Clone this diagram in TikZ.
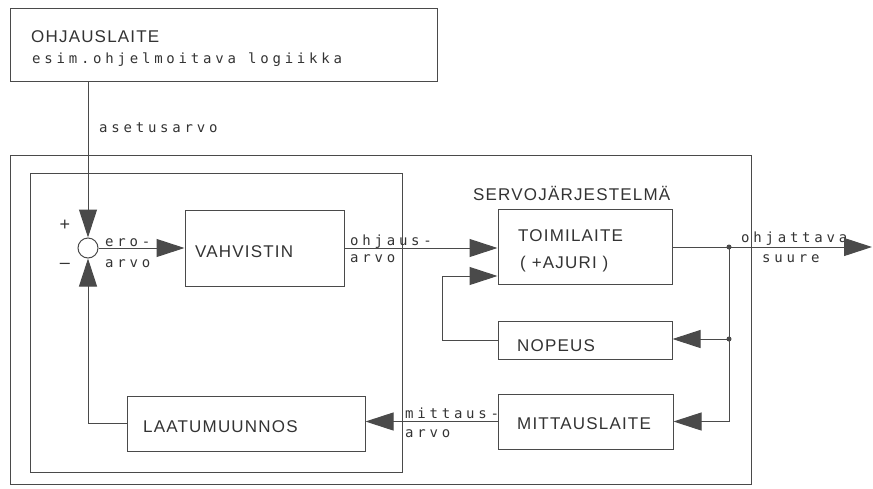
\documentclass[tikz,border=0pt]{standalone}
\usepackage{fontspec}
\usetikzlibrary{arrows.meta,calc}
\newfontfamily\bigf[LetterSpace=7]{Liberation Sans}
\newfontfamily\smallf[LetterSpace=27]{DejaVu Sans Mono}
\definecolor{ink}{HTML}{333333}
\definecolor{lin}{HTML}{4A4A4A}
\begin{document}
\begin{tikzpicture}[x=1pt,y=-1pt,
  box/.style={draw=lin,line width=1pt,inner sep=0pt},
  wire/.style={draw=lin,line width=1pt},
  arr/.style={wire,-{Triangle[length=28pt,width=18pt]}},
  big/.style={inner sep=0pt,anchor=base west,text=ink,font=\bigf\fontsize{17}{20}\selectfont},
  sml/.style={inner sep=0pt,anchor=base west,text=ink,font=\smallf\fontsize{14}{17}\selectfont},
  dot/.style={circle,fill=lin,inner sep=0pt,minimum size=5pt}]
\useasboundingbox (0,0) rectangle (873,488);
% boxes
\node[box,minimum width=427pt,minimum height=73pt] (ohj) at (223.5,44.5) {};
\node[box,minimum width=741pt,minimum height=329pt] (outer) at (380.5,319.5) {};
\node[box,minimum width=372pt,minimum height=299pt] (inner) at (216,322.5) {};
\node[box,circle,minimum size=20pt] (sum) at (88,248) {};
\node[box,minimum width=159pt,minimum height=76pt] (vahv) at (264.5,248) {};
\node[box,minimum width=174pt,minimum height=75pt] (toim) at (585,246.5) {};
\node[box,minimum width=174pt,minimum height=38pt] (nop) at (585,340) {};
\node[box,minimum width=175pt,minimum height=55pt] (mitt) at (585.5,421.5) {};
\node[box,minimum width=238pt,minimum height=55pt] (laat) at (246,423.5) {};
% coordinates
\coordinate (j1) at (729,247);
\coordinate (j2) at (729,339);
\coordinate (out) at (872,247);
\coordinate (c1) at (442,276);
% texts
\node[big] (t1) at (31,42) {OHJAUSLAITE};
\node[sml] (t2) at (32,63) {esim.ohjelmoitava logiikka};
\node[sml] (t3) at (99,132) {asetusarvo};
\node[inner sep=0pt,text=ink,font=\bigf\fontsize{18}{20}\selectfont] (plus) at (65,225) {+};
\node[inner sep=0pt,text=ink,font=\bigf\fontsize{18}{20}\selectfont] (minus) at (65,266) {\textendash};
\node[sml] (t4) at (105,246) {ero-};
\node[sml] (t5) at (105,267) {arvo};
\node[big] (t6) at (195,257) {VAHVISTIN};
\node[sml] (t7) at (350,245) {ohjaus-};
\node[sml] (t8) at (350,262) {arvo};
\node[big] (t9) at (473,200) {SERVOJÄRJESTELMÄ};
\node[big] (t10) at (518,241) {TOIMILAITE};
\node[big] (t11) at (520,268) {( +AJURI )};
\node[sml] (t12) at (741,242) {ohjattava};
\node[sml] (t13) at (762,262) {suure};
\node[big] (t14) at (517,351) {NOPEUS};
\node[big] (t15) at (517,429) {MITTAUSLAITE};
\node[sml] (t16) at (405,418) {mittaus-};
\node[sml] (t17) at (405,437) {arvo};
\node[big] (t18) at (143,432) {LAATUMUUNNOS};
% connectors
\draw[arr] (sum |- ohj.south) -- (sum.north);
\draw[arr] (sum.east) -- (vahv.west);
\draw[arr] (vahv.east) -- (vahv.east -| toim.west);
\draw[arr] (toim.east |- j1) -- (out);
\draw[arr] (j1) |- (mitt.east);
\draw[arr] (j2) -- (j2 -| nop.east);
\draw[arr] (nop.west) -| (c1) -- (c1 -| toim.west);
\draw[arr] (mitt.west) -- (mitt.west -| laat.east);
\draw[arr] (laat.west) -| (sum.south);
\node[dot] (d1) at (j1) {};
\node[dot] (d2) at (j2) {};
\end{tikzpicture}
\end{document}
